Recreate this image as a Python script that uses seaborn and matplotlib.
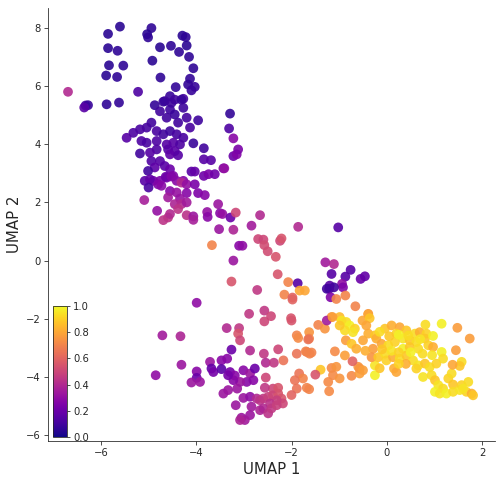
#!/usr/bin/env python3
"""
UMAP embedding scatter, points coloured by score (plasma)
"""

import pandas as pd
import matplotlib
matplotlib.use("Agg")
import matplotlib.pyplot as plt
import seaborn as sns

# (UMAP 1, UMAP 2, score), grouped by region
top_cluster = [
    (-5.60, 8.04, .05), (-5.85, 7.79, .05), (-4.94, 7.99, .06), (-5.03, 7.78, .05),
    (-5.01, 7.67, .06), (-4.29, 7.73, .05), (-4.22, 7.68, .06), (-5.85, 7.30, .05),
    (-5.65, 7.21, .06), (-4.76, 7.33, .05), (-4.53, 7.38, .06), (-4.20, 7.39, .05),
    (-4.36, 7.17, .06), (-4.15, 7.00, .06), (-4.92, 6.87, .05), (-5.83, 6.71, .05),
    (-5.53, 6.70, .06), (-4.06, 6.61, .06), (-5.89, 6.36, .05), (-5.66, 6.31, .06),
    (-4.75, 6.29, .06), (-4.13, 6.25, .07), (-4.43, 5.96, .07), (-4.17, 6.05, .07),
    (-4.03, 5.97, .08), (-4.10, 5.85, .08), (-5.22, 5.80, .13), (-6.69, 5.80, .40),
    (-6.32, 5.33, .10), (-6.27, 5.34, .08), (-6.35, 5.26, .16), (-5.88, 5.37, .06),
    (-5.62, 5.43, .07), (-4.87, 5.34, .07), (-4.55, 5.65, .08), (-4.66, 5.48, .10),
    (-4.45, 5.53, .10), (-4.27, 5.56, .11), (-3.29, 5.05, .07), (-3.31, 4.54, .13),
    (-3.22, 4.20, .28), (-4.06, 4.03, .08), (-3.84, 3.86, .10),
]

mid_cluster = [
    (-4.69, 5.46, .08), (-4.52, 5.42, .09), (-4.31, 5.53, .08), (-4.27, 5.25, .09),
    (-4.76, 5.13, .10), (-4.55, 5.19, .09), (-4.45, 5.02, .08), (-4.20, 4.91, .11),
    (-4.62, 4.91, .10), (-4.38, 4.74, .10), (-3.96, 4.82, .09), (-4.13, 4.57, .12),
    (-4.94, 4.74, .10), (-5.04, 4.57, .11), (-5.18, 4.51, .12), (-5.32, 4.39, .13),
    (-5.46, 4.22, .15), (-4.83, 4.45, .12), (-4.69, 4.34, .10), (-4.55, 4.45, .09),
    (-4.41, 4.34, .11), (-4.27, 4.22, .12), (-5.15, 4.11, .13), (-5.04, 4.05, .12),
    (-4.83, 4.11, .13), (-4.62, 3.99, .15), (-4.48, 4.05, .16), (-4.34, 3.99, .13),
    (-4.83, 3.82, .13), (-4.59, 3.82, .15), (-4.45, 3.76, .16), (-5.18, 3.68, .10),
    (-4.97, 3.71, .15), (-4.55, 3.65, .17), (-4.38, 3.62, .15), (-3.84, 3.48, .15),
    (-3.22, 3.59, .20), (-3.15, 3.65, .26), (-3.12, 3.82, .24), (-4.94, 3.42, .14),
    (-4.76, 3.42, .15), (-4.66, 3.25, .16), (-4.87, 3.20, .17), (-5.01, 3.08, .10),
    (-4.55, 3.14, .20), (-4.48, 2.91, .25), (-4.62, 2.85, .23), (-4.10, 3.06, .16),
    (-4.03, 3.06, .18), (-3.84, 2.91, .21), (-3.74, 2.97, .24), (-3.69, 3.45, .16),
    (-3.61, 2.97, .21), (-3.43, 3.17, .26), (-3.41, 3.17, .31), (-5.08, 2.74, .16),
    (-4.90, 2.74, .21), (-4.76, 2.74, .24), (-4.27, 2.74, .26), (-4.64, 2.88, .21),
    (-4.52, 2.89, .26), (-4.97, 2.79, .18), (-4.80, 2.62, .26), (-4.73, 2.57, .28),
    (-5.00, 2.51, .12), (-4.41, 2.74, .28), (-4.31, 2.68, .40), (-4.20, 2.62, .31),
    (-4.03, 2.62, .24), (-3.96, 2.32, .25), (-3.82, 2.25, .27), (-4.55, 2.39, .27),
    (-4.41, 2.34, .32), (-4.20, 2.32, .27), (-4.59, 2.17, .35), (-4.34, 2.13, .32),
    (-5.09, 2.08, .36), (-4.45, 1.94, .38), (-4.31, 1.94, .40), (-4.20, 2.00, .35),
    (-4.38, 1.77, .44), (-4.82, 1.71, .31), (-4.69, 1.39, .44), (-4.59, 1.48, .44),
    (-4.55, 1.60, .40), (-4.20, 1.56, .43), (-4.06, 1.52, .33), (-4.06, 1.40, .36),
    (-3.77, 1.67, .31), (-3.76, 1.50, .28), (-3.54, 1.94, .33), (-3.50, 1.63, .28),
    (-3.45, 1.60, .31), (-3.28, 1.48, .20), (-3.17, 1.65, .50), (-3.52, 1.08, .33),
    (-3.22, 1.06, .38), (-3.67, 0.53, .70), (-3.10, 0.51, .28), (-3.22, 0.00, .33),
]

bridge = [
    (-2.66, 1.56, .40), (-2.84, 1.20, .35), (-1.86, 1.16, .40), (-1.02, 1.14, .15),
    (-3.03, 0.51, .30), (-2.70, 0.74, .50), (-2.59, 0.72, .50), (-2.57, 0.53, .52),
    (-2.50, 0.32, .52), (-2.24, 0.68, .50), (-2.21, 0.76, .55), (-2.33, 0.13, .55),
    (-2.29, -0.47, .55), (-3.26, -0.72, .55), (-2.72, -1.01, .45), (-2.07, -0.74, .70),
    (-1.87, -0.78, .15), (-2.15, -1.17, .70), (-1.98, -1.27, .60), (-1.83, -1.03, .80),
    (-1.72, -1.03, .80), (-1.29, -0.06, .35), (-1.11, -0.12, .40), (-1.16, -0.46, .15),
    (-0.76, -0.32, .15), (-0.87, -0.55, .15), (-0.55, -0.63, .20), (-0.46, -0.54, .18),
    (-0.94, -0.80, .30), (-0.92, -0.92, .25), (-1.20, -0.86, .15), (-1.11, -0.92, .10),
    (-1.21, -0.97, .12), (-1.26, -0.97, .10), (-1.18, -1.26, .25), (-1.06, -1.32, .70),
    (-0.87, -1.20, .70), (-0.66, -1.57, .70), (-2.89, -1.83, .45), (-2.57, -1.72, .45),
    (-2.43, -1.91, .50), (-2.01, -1.98, .55), (-1.16, -1.94, .75), (-0.99, -1.94, .85),
    (-0.39, -1.83, .75), (-3.99, -1.45, .30), (-1.98, -1.34, .60), (-2.57, -2.09, .50),
    (-2.00, -2.06, .55),
]

lower_left = [
    (-4.71, -2.57, .35), (-4.33, -2.60, .38), (-3.36, -2.32, .40), (-3.10, -2.32, .45),
    (-3.12, -2.51, .55), (-3.08, -2.74, .50), (-3.26, -3.06, .20), (-2.87, -3.09, .40),
    (-2.58, -3.20, .45), (-2.54, -3.51, .40), (-2.37, -3.51, .45), (-2.28, -3.05, .50),
    (-2.17, -3.43, .65), (-2.54, -4.02, .50), (-3.71, -3.48, .33), (-3.47, -3.43, .28),
    (-3.35, -3.37, .28), (-4.85, -3.94, .30), (-4.31, -3.58, .33), (-3.99, -3.81, .28),
    (-3.99, -4.03, .20), (-4.10, -4.19, .33), (-3.92, -4.17, .33), (-3.68, -3.71, .18),
    (-3.64, -3.83, .23), (-3.47, -3.73, .16), (-3.29, -3.83, .23), (-3.19, -3.95, .28),
    (-3.01, -3.77, .28), (-2.87, -3.88, .33), (-2.77, -3.71, .20), (-2.80, -4.11, .28),
    (-2.94, -4.17, .28), (-3.08, -4.17, .33), (-3.22, -4.11, .28), (-3.33, -3.94, .23),
    (-3.43, -4.57, .33), (-3.33, -4.45, .33), (-3.14, -4.40, .33), (-3.01, -4.72, .33),
    (-2.87, -4.68, .30), (-3.17, -4.97, .33), (-2.84, -5.02, .35), (-2.87, -5.31, .33),
    (-3.05, -5.40, .33), (-2.98, -5.48, .35), (-3.08, -5.48, .38), (-2.73, -4.74, .40),
    (-2.66, -4.80, .43), (-2.59, -4.74, .45), (-2.49, -4.68, .48), (-2.39, -4.63, .50),
    (-2.28, -4.57, .55), (-2.21, -4.74, .55), (-2.18, -4.91, .50), (-2.31, -4.80, .48),
    (-2.45, -4.91, .43), (-2.59, -5.08, .40), (-2.66, -5.14, .38), (-2.49, -5.25, .43),
    (-2.42, -5.08, .45), (-2.31, -4.97, .48), (-2.39, -4.40, .50), (-2.28, -4.37, .55),
    (-2.56, -4.37, .45),
]

orange_band = [
    (-1.89, -2.57, .70), (-1.86, -2.66, .72), (-1.63, -2.46, .75), (-1.63, -2.68, .70),
    (-1.89, -3.20, .65), (-1.68, -3.14, .65), (-1.62, -3.20, .70), (-1.39, -3.75, .88),
    (-1.50, -3.92, .55), (-1.84, -3.88, .65), (-1.76, -4.05, .70), (-1.93, -4.11, .65),
    (-1.68, -4.37, .70), (-1.89, -4.40, .65), (-2.00, -4.62, .60), (-1.63, -4.42, .70),
    (-1.44, -2.21, .70), (-1.30, -2.34, .75), (-1.26, -2.06, .35), (-1.14, -1.94, .78),
    (-1.65, -2.71, .65), (-1.70, -3.12, .70), (-1.58, -3.16, .70), (-1.09, -3.12, .72),
    (-0.88, -3.26, .78), (-1.16, -3.69, .72), (-1.06, -3.65, .75), (-1.13, -3.94, .72),
    (-0.99, -4.05, .75), (-1.23, -4.17, .72), (-0.74, -3.96, .72), (-0.57, -3.88, .78),
    (-0.60, -3.65, .75), (-1.21, -4.49, .72), (-0.72, -3.46, .60), (-0.57, -3.71, .75),
    (-0.50, -3.77, .78),
]

yellow_cluster = [
    (-0.95, -2.06, .95), (-0.85, -2.11, .93), (-0.78, -2.23, .98), (-0.88, -2.40, .93),
    (-0.67, -2.34, .91), (-0.71, -2.46, .95), (-0.99, -2.23, .88), (-0.51, -2.06, .80),
    (-0.39, -1.85, .80), (-0.36, -1.98, .88), (-0.86, -2.74, .77), (-0.74, -2.86, .88),
    (-0.64, -3.03, .82), (-0.50, -2.74, .80), (-0.39, -2.51, .82), (-0.43, -2.23, .80),
    (-0.25, -2.57, .88), (-0.25, -3.60, .95), (-0.25, -3.94, .98),
    (-0.04, -2.34, .88), (0.10, -2.23, .82), (0.27, -2.29, .80), (0.20, -2.51, .91),
    (0.41, -2.40, .88), (0.59, -2.51, .93), (0.69, -2.46, .82), (0.83, -2.51, .91),
    (0.34, -2.68, .95), (0.48, -2.74, .88), (0.62, -2.80, .93), (0.80, -2.68, .88),
    (-0.22, -2.68, .82), (-0.11, -2.86, .80), (0.03, -2.91, .93), (0.17, -2.80, .91),
    (0.34, -3.03, .98), (0.48, -2.97, .88), (0.66, -3.03, .93), (0.87, -2.91, .91),
    (0.97, -2.97, .82), (-0.29, -3.03, .77), (-0.32, -3.32, .75), (-0.18, -3.32, .88),
    (-0.04, -3.20, .93), (-0.01, -3.43, .91), (0.13, -3.32, .82), (0.27, -3.37, .93),
    (0.41, -3.26, .88), (0.55, -3.43, .93), (0.66, -3.60, .95), (0.80, -3.54, .88),
    (0.90, -3.66, .93), (1.04, -3.54, .91), (1.15, -3.14, .98), (1.18, -3.37, .93),
    (0.15, -3.71, .82), (0.20, -3.83, .80), (0.62, -3.71, .91), (0.76, -4.00, .95),
    (0.94, -3.94, .93), (1.01, -4.11, .88), (1.08, -4.28, .95), (1.18, -4.40, .93),
    (1.29, -4.05, .91), (1.36, -3.88, .93), (1.39, -4.26, .88), (1.01, -4.51, .98),
    (1.11, -4.57, .95), (1.25, -4.57, .98), (1.39, -4.51, .93), (1.53, -4.45, .95),
    (1.67, -4.51, .91), (1.78, -4.57, .82), (1.81, -4.63, .88), (1.57, -4.28, .91),
    (1.71, -4.17, .93), (1.60, -4.40, .95), (1.57, -3.48, .93), (1.53, -3.62, .88),
    (1.38, -3.58, .80), (1.45, -3.08, .77), (1.74, -2.68, .77), (1.48, -2.31, .77),
    (1.15, -2.17, .98), (0.81, -2.20, .93), (0.97, -2.59, .98),
    (-0.15, -2.45, .93), (0.05, -2.60, .88), (0.25, -2.55, .98), (0.45, -2.58, .93),
    (0.70, -2.70, .95), (-0.10, -3.05, .88), (0.10, -3.10, .95), (0.25, -3.15, .91),
    (0.50, -3.15, .98), (0.75, -3.20, .93), (0.95, -3.25, .95), (0.40, -3.55, .82),
    (0.25, -3.55, .91), (-0.45, -3.10, .82), (-0.15, -3.70, .88),
]

cbar_ticks = [0.0, 0.2, 0.4, 0.6, 0.8, 1.0]
x_ticks = [-6, -4, -2, 0, 2]
y_ticks = [-6, -4, -2, 0, 2, 4, 6, 8]


def build_frame():
    rows = top_cluster + mid_cluster + bridge + lower_left + orange_band + yellow_cluster
    return pd.DataFrame(rows, columns=["umap1", "umap2", "score"])


def make_plot(df):
    sns.set_style("white")
    plt.rcParams["font.family"] = ["DejaVu Sans"]

    fig = plt.figure(figsize=(501 / 72, 485 / 72), dpi=72)
    ax = fig.add_axes([48 / 501, 44 / 485, 447 / 501, 433 / 485])

    sns.scatterplot(
        data=df, x="umap1", y="umap2", hue="score",
        palette="plasma", hue_norm=(0, 1),
        s=95, alpha=0.9, linewidth=0, legend=False, ax=ax,
    )

    ax.set_xlim(-7.11, 2.27)
    ax.set_ylim(-6.2, 8.68)
    ax.set_xticks(x_ticks)
    ax.set_yticks(y_ticks)
    ax.tick_params(labelsize=10, length=4, left=True, bottom=True)
    ax.set_xlabel("UMAP 1", fontsize=15)
    ax.set_ylabel("UMAP 2", fontsize=15)
    sns.despine(ax=ax)

    # colour bar tucked in the lower left corner
    cax = ax.inset_axes([0.011, 0.009, 0.031, 0.303])
    sm = plt.cm.ScalarMappable(cmap="plasma", norm=plt.Normalize(0, 1))
    cb = fig.colorbar(sm, cax=cax, ticks=cbar_ticks)
    cb.ax.tick_params(labelsize=10, length=3)
    cb.outline.set_linewidth(0.8)

    fig.savefig("out.png", dpi=72, facecolor="white")


def main():
    df = build_frame()
    print(f"points: {len(df)}")
    make_plot(df)


if __name__ == "__main__":
    main()
